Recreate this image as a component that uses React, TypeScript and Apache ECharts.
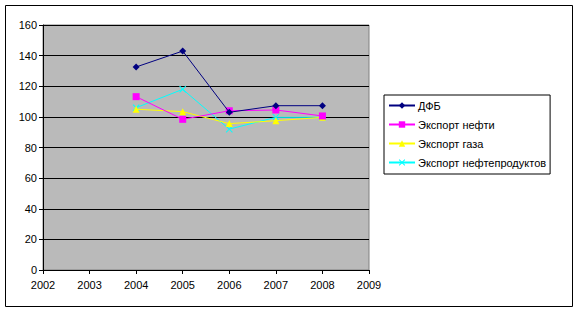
import React, { useEffect, useRef } from "react";
import * as echarts from "echarts";

const years = [2004, 2005, 2006, 2007, 2008];
const seriesNames = ["ДФБ", "Экспорт нефти", "Экспорт газа", "Экспорт нефтепродуктов"];
const dfb = [132.6, 143, 103, 107.3, 107.3];
const oil = [113.2, 98.4, 104, 104.5, 100.6];
const gas = [105, 103.4, 95.6, 97.5, 99.7];
const oilProducts = [106, 118, 92, 99.7, 99.7];
const colors = ["#000080", "#ff00ff", "#ffff00", "#00ffff"];
const symbols = [
  "diamond",
  "rect",
  "triangle",
  "path://M0,1 L1,0 L5,4 L9,0 L10,1 L6,5 L10,9 L9,10 L5,6 L1,10 L0,9 L4,5 Z",
];
const symbolSizes = [7, 7, 7, 7];

export default function App() {
  const ref = useRef<HTMLDivElement>(null);
  useEffect(() => {
    document.body.style.margin = "0";
    const chart = echarts.init(ref.current!, undefined, { renderer: "svg" });
    const all = [dfb, oil, gas, oilProducts];
    const font = "'Liberation Sans', Arial, sans-serif";
    chart.setOption({
      animation: false,
      backgroundColor: "#ffffff",
      textStyle: { fontFamily: font },
      grid: {
        left: 43,
        top: 25,
        right: 209,
        bottom: 43,
        show: true,
        backgroundColor: "#bababa",
        borderColor: "#808080",
        borderWidth: 1,
      },
      legend: {
        orient: "vertical",
        left: 384,
        top: 95,
        width: 168,
        padding: [5, 4, 6, 4],
        itemGap: 8,
        itemWidth: 26,
        itemHeight: 8,
        borderColor: "#000",
        borderWidth: 1,
        data: seriesNames,
        textStyle: {
          fontFamily: font,
          fontSize: 11,
          color: "#000",
          lineHeight: 11,
          padding: [0, 0, 0, -2],
        },
      },
      xAxis: {
        type: "value",
        min: 2002,
        max: 2009,
        interval: 1,
        axisLine: { lineStyle: { color: "#000", width: 1 } },
        axisTick: { show: true, inside: false, length: 4, lineStyle: { color: "#000" } },
        axisLabel: {
          color: "#000",
          fontSize: 11,
          fontFamily: font,
          margin: 9,
          formatter: (v: number) => String(v),
        },
        splitLine: { show: false },
      },
      yAxis: {
        type: "value",
        min: 0,
        max: 160,
        interval: 20,
        axisLine: { show: true, lineStyle: { color: "#000", width: 1 } },
        axisTick: { show: true, inside: false, length: 4, lineStyle: { color: "#000" } },
        axisLabel: { color: "#000", fontSize: 11, fontFamily: font, margin: 6 },
        splitLine: { show: true, lineStyle: { color: "#000", width: 1 } },
      },
      series: all.map((vals, i) => ({
        name: seriesNames[i],
        type: "line",
        data: years.map((y, j) => [y, vals[j]]),
        symbol: symbols[i],
        symbolSize: symbolSizes[i],
        showSymbol: true,
        lineStyle: { color: colors[i], width: 1 },
        itemStyle: { color: colors[i], borderWidth: 0 },
        z: 10 - i,
      })),
      graphic: [
        {
          type: "rect",
          shape: { x: 5.5, y: 5.5, width: 567, height: 301 },
          style: { fill: "none", stroke: "#000", lineWidth: 1 },
          silent: true,
        },
      ],
    });
    return () => chart.dispose();
  }, []);
  return (
    <div
      ref={ref}
      style={{ width: 578, height: 313, position: "absolute", left: 0, top: 0 }}
    />
  );
}
